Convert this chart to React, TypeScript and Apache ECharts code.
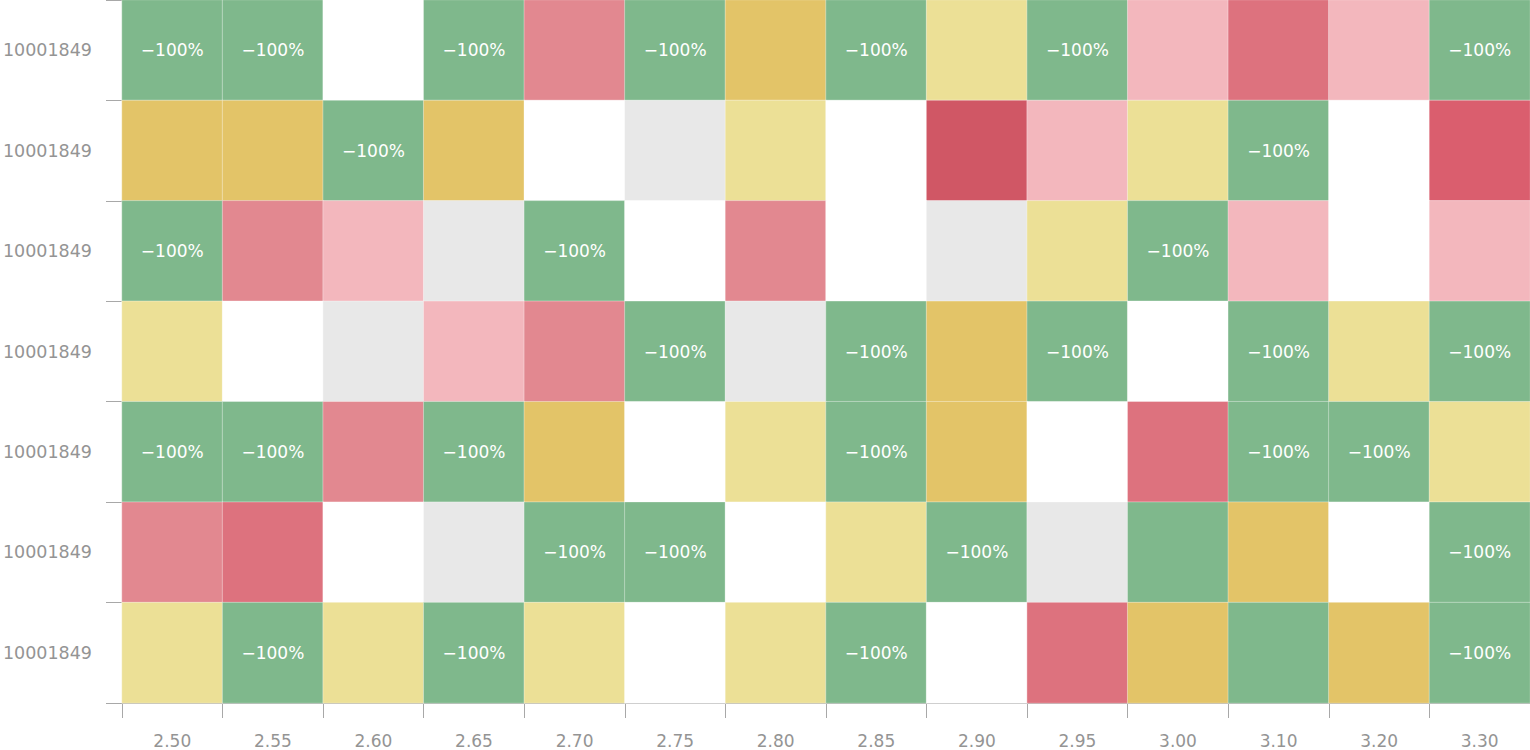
import React, { useEffect, useRef } from "react";
import * as echarts from "echarts";

const xCategories = ["2.50", "2.55", "2.60", "2.65", "2.70", "2.75", "2.80", "2.85", "2.90", "2.95", "3.00", "3.10", "3.20", "3.30"];
const yCategories = ["10001849", "10001849", "10001849", "10001849", "10001849", "10001849", "10001849"];

// change values (%) per row, top row first; -100 cells carry a label
const row1 = [-100, -100, 0, -100, 15, -100, -35, -100, -10, -100, 5, 30, 5, -100];
const row2 = [-35, -35, -100, -35, 0, -2, -10, 0, 70, 5, -10, -100, 0, 50];
const row3 = [-100, 15, 5, -2, -100, 0, 15, 0, -2, -10, -100, 5, 0, 5];
const row4 = [-10, 0, -2, 5, 15, -100, -2, -100, -35, -100, 0, -100, -10, -100];
const row5 = [-100, -100, 15, -100, -35, 0, -10, -100, -35, 0, 30, -100, -100, -10];
const row6 = [15, 30, 0, -2, -100, -100, 0, -10, -100, -2, -80, -35, 0, -100];
const row7 = [-10, -100, -10, -100, -10, 0, -10, -100, 0, 30, -35, -80, -35, -100];
const rows = [row1, row2, row3, row4, row5, row6, row7];

export default function App() {
  const ref = useRef<HTMLDivElement>(null);
  useEffect(() => {
    if (!ref.current) return;
    const chart = echarts.init(ref.current, null, { renderer: "svg" });
    const data: any[] = [];
    rows.forEach((r, ri) => {
      r.forEach((v, ci) => {
        data.push([ci, ri, v]);
      });
    });
    const labelFont = "'DejaVu Sans', sans-serif";
    chart.setOption({
      animation: false,
      grid: { left: 122, right: 0, top: 0, bottom: 47, containLabel: false, outerBoundsMode: "none" },
      xAxis: {
        type: "category",
        data: xCategories,
        splitArea: { show: false },
        axisLine: { show: true, lineStyle: { color: "#a8a8a8", width: 1 } },
        axisTick: { show: true, length: 15, lineStyle: { color: "#a8a8a8" } },
        axisLabel: { color: "#949494", fontSize: 17, lineHeight: 17, margin: 29, fontFamily: labelFont },
      },
      yAxis: {
        type: "category",
        data: yCategories,
        inverse: true,
        axisLine: { show: false },
        axisTick: { show: true, length: 16, lineStyle: { color: "#a8a8a8" } },
        axisLabel: { color: "#949494", fontSize: 17.5, margin: 30, fontFamily: labelFont },
      },
      visualMap: {
        show: false,
        type: "piecewise",
        dimension: 2,
        pieces: [
          { lt: -50, color: "#7fb88c" },
          { gte: -50, lt: -20, color: "#e3c468" },
          { gte: -20, lt: -5, color: "#ece096" },
          { gte: -5, lt: 0, color: "#e8e8e8" },
          { value: 0, color: "#ffffff" },
          { gt: 0, lt: 10, color: "#f3b7bd" },
          { gte: 10, lt: 25, color: "#e28890" },
          { gte: 25, lt: 40, color: "#dd727e" },
          { gte: 40, lt: 60, color: "#da5e6e" },
          { gte: 60, color: "#d05765" },
        ],
      },
      series: [
        {
          type: "heatmap",
          data,
          itemStyle: { borderColor: "rgba(255,255,255,0.35)", borderWidth: 1 },
          label: {
            show: true,
            color: "#ffffff",
            fontSize: 17,
            fontFamily: labelFont,
            formatter: (p: any) => (p.value[2] === -100 ? "\u2212100%" : ""),
          },
        },
      ],
    });
    return () => chart.dispose();
  }, []);
  return <div ref={ref} style={{ width: 1530, height: 750, position: "absolute", left: 0, top: 0 }} />;
}
